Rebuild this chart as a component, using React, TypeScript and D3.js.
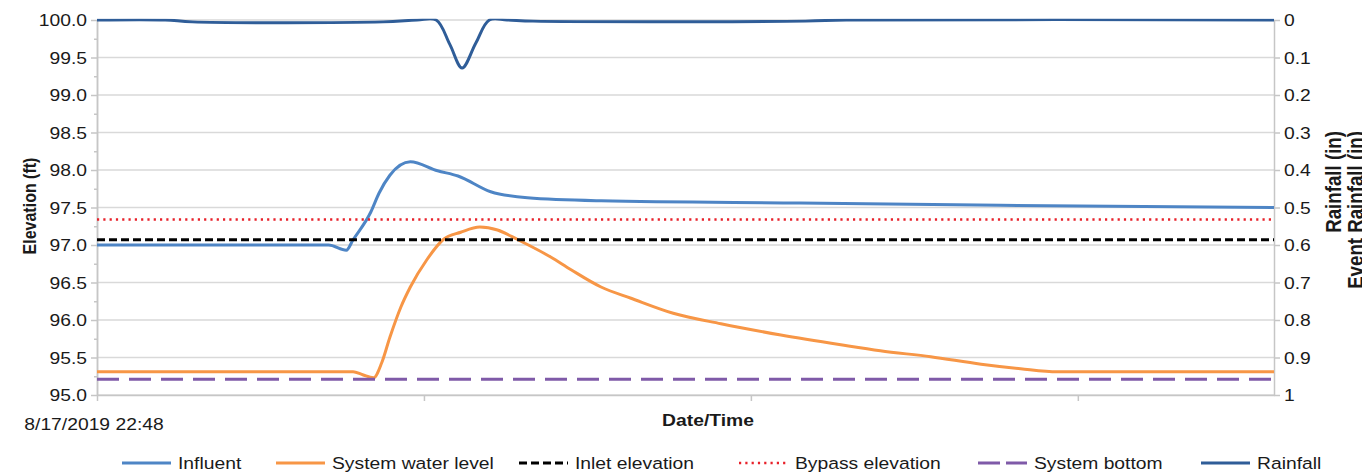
import React, { useEffect, useRef } from 'react';
import * as d3 from 'd3';

// time is kept as hours after the first reading
const startTime = new Date(2019, 7, 17, 22, 48);
const spanHours = 86.4;
const dayTicks = [0, 24, 48, 72];

const influentHours = [0, 17, 18.3, 18.8, 20.1, 20.7, 21.5, 23, 25, 26.5, 28.9, 31.6, 37, 51.6, 66.3, 86.4];
const influentElev = [97.0, 97.0, 96.93, 97.07, 97.44, 97.69, 97.93, 98.11, 97.99, 97.92, 97.71, 97.63, 97.59, 97.56, 97.53, 97.5];

const levelHours = [0, 18.8, 19.5, 20.3, 20.9, 21.5, 22.3, 23, 24.2, 25.4, 26.7, 28.1, 29.4, 30.9, 33.3, 34.8, 37, 39.2, 42.3, 45.8, 50.2, 54.6, 57.5, 61.2, 64.9, 67.8, 70.5, 86.4];
const levelElev = [95.31, 95.31, 95.27, 95.23, 95.43, 95.77, 96.17, 96.44, 96.8, 97.07, 97.17, 97.24, 97.2, 97.07, 96.84, 96.67, 96.44, 96.29, 96.09, 95.95, 95.8, 95.67, 95.59, 95.51, 95.41, 95.35, 95.31, 95.31];

const rainHours = [0, 5, 7, 21, 23.5, 24.9, 25.9, 26.8, 27.8, 28.8, 30.1, 32, 52, 55, 86.4];
const rainIn = [0, 0, 0.005, 0.005, 0, 0, 0.065, 0.128, 0.062, 0, 0, 0.003, 0.003, 0, 0];

const inletElevation = 97.07;
const bypassElevation = 97.34;
const systemBottom = 95.21;

const elevTicks = [95, 95.5, 96, 96.5, 97, 97.5, 98, 98.5, 99, 99.5, 100];
const rainTicks = [0, 0.1, 0.2, 0.3, 0.4, 0.5, 0.6, 0.7, 0.8, 0.9, 1];

const legendNames = ['Influent', 'System water level', 'Inlet elevation', 'Bypass elevation', 'System bottom', 'Rainfall'];
const legendX = [122, 276, 519, 739, 978, 1201];

const colors = {
  influent: '#4E85C5',
  level: '#F79646',
  inlet: '#000000',
  bypass: '#E8212A',
  bottom: '#7F5AA8',
  rain: '#2F5D98',
};

const W = 1362;
const H = 472;
const font = '"Liberation Sans", Arial, sans-serif';
const stretch = 1.17;

const atHour = (h: number) => d3.timeMinute.offset(startTime, Math.round(h * 60));

export default function App() {
  const ref = useRef<SVGSVGElement>(null);

  useEffect(() => {
    document.body.style.margin = '0';
    const svg = d3.select(ref.current);
    svg.selectAll('*').remove();

    const left = 97;
    const right = 1274;
    const top = 20;
    const bottom = 395;

    const x = d3.scaleTime().domain([startTime, atHour(spanHours)]).range([left, right]);
    const yL = d3.scaleLinear().domain([95, 100]).range([bottom, top]);
    const yR = d3.scaleLinear().domain([0, 1]).range([top, bottom]);

    const label = (
      g: any, px: number, py: number, str: string,
      anchor = 'start', size = 16.5, weight = 'normal'
    ) =>
      g.append('text')
        .attr('transform', `translate(${px},${py}) scale(${stretch},1)`)
        .attr('text-anchor', anchor)
        .attr('font-family', font)
        .attr('font-size', size)
        .attr('font-weight', weight)
        .attr('fill', '#1a1a1a')
        .text(str);

    const vlabel = (px: number, py: number, str: string, anchor: string, size: number) =>
      svg.append('text')
        .attr('transform', `translate(${px},${py}) rotate(-90) scale(1,${stretch})`)
        .attr('text-anchor', anchor)
        .attr('font-family', font)
        .attr('font-size', size)
        .attr('font-weight', 'bold')
        .attr('fill', '#1a1a1a')
        .text(str);

    // gridlines
    svg.append('g')
      .selectAll('line')
      .data(elevTicks)
      .join('line')
      .attr('x1', left)
      .attr('x2', right)
      .attr('y1', d => yL(d))
      .attr('y2', d => yL(d))
      .attr('stroke', '#d9d9d9')
      .attr('stroke-width', 1.5);

    // axes
    const styleAxis = (g: any) => {
      g.selectAll('path').attr('stroke', '#c6c6c6').attr('stroke-width', 1.5);
      g.selectAll('line').attr('stroke', '#c6c6c6').attr('stroke-width', 1.5);
      g.selectAll('text').remove();
    };

    svg.append('g')
      .attr('transform', `translate(${left},0)`)
      .call(d3.axisLeft(yL).tickValues(d3.range(95.25, 100, 0.5)).tickSize(3).tickSizeOuter(0))
      .call(styleAxis);
    svg.append('g')
      .attr('transform', `translate(${left},0)`)
      .call(d3.axisLeft(yL).tickValues(elevTicks).tickSize(6).tickSizeOuter(0))
      .call(styleAxis);
    svg.append('g')
      .attr('transform', `translate(${right},0)`)
      .call(d3.axisRight(yR).tickValues(rainTicks).tickSize(6).tickSizeOuter(0))
      .call(styleAxis);
    svg.append('g')
      .attr('transform', `translate(0,${bottom})`)
      .call(d3.axisBottom(x).tickValues(dayTicks.map(atHour)).tickSize(6).tickSizeOuter(0))
      .call(styleAxis);

    const fmtElev = d3.format('.1f');
    elevTicks.forEach(t => label(svg, 87, yL(t) + 6, fmtElev(t), 'end'));
    rainTicks.forEach(t => label(svg, 1284, yR(t) + 6, String(t), 'start'));
    label(svg, 94, 430, d3.timeFormat('%-m/%-d/%Y %H:%M')(startTime), 'middle');

    label(svg, 708, 426, 'Date/Time', 'middle', 16.5, 'bold');
    vlabel(36, 206, 'Elevation (ft)', 'middle', 16);
    vlabel(1341, 131, 'Rainfall (in)', 'end', 18.7);
    vlabel(1363, 131, 'Event Rainfall (in)', 'end', 18.7);

    // series
    svg.append('clipPath')
      .attr('id', 'plot-clip')
      .append('rect')
      .attr('x', left - 2)
      .attr('y', top - 1.2)
      .attr('width', right - left + 4)
      .attr('height', bottom - top + 3);

    const plot = svg.append('g').attr('clip-path', 'url(#plot-clip)');

    const drawElev = (hours: number[], vals: number[], color: string) => {
      const line = d3.line<[number, number]>()
        .x(d => x(atHour(d[0])))
        .y(d => yL(d[1]))
        .curve(d3.curveMonotoneX);
      plot.append('path')
        .attr('d', line(hours.map((h, i) => [h, vals[i]])))
        .attr('fill', 'none')
        .attr('stroke', color)
        .attr('stroke-width', 3)
        .attr('stroke-linejoin', 'round');
    };

    drawElev(influentHours, influentElev, colors.influent);
    drawElev(levelHours, levelElev, colors.level);

    const flat = (v: number, color: string, dash: string, width: number) =>
      plot.append('line')
        .attr('x1', x(startTime))
        .attr('x2', x(atHour(spanHours)))
        .attr('y1', yL(v))
        .attr('y2', yL(v))
        .attr('stroke', color)
        .attr('stroke-width', width)
        .attr('stroke-dasharray', dash);

    flat(inletElevation, colors.inlet, '8,4', 3);
    flat(bypassElevation, colors.bypass, '2.2,4.1', 2.4);
    flat(systemBottom, colors.bottom, '22,10', 3);

    // rainfall keeps the overshooting smoothing, the part above zero is clipped
    const rainLine = d3.line<[number, number]>()
      .x(d => x(atHour(d[0])))
      .y(d => yR(d[1]))
      .curve(d3.curveCatmullRom.alpha(0.5));
    plot.append('path')
      .attr('d', rainLine(rainHours.map((h, i) => [h, rainIn[i]])))
      .attr('fill', 'none')
      .attr('stroke', colors.rain)
      .attr('stroke-width', 3);

    // legend
    const legendStyle = [
      { c: colors.influent, dash: 'none', w: 3 },
      { c: colors.level, dash: 'none', w: 3 },
      { c: colors.inlet, dash: '8,4', w: 3 },
      { c: colors.bypass, dash: '2.2,4.1', w: 2.4 },
      { c: colors.bottom, dash: '22,6', w: 3 },
      { c: colors.rain, dash: 'none', w: 3 },
    ];
    legendNames.forEach((name, i) => {
      const lx = legendX[i];
      svg.append('line')
        .attr('x1', lx)
        .attr('x2', lx + 49)
        .attr('y1', 463)
        .attr('y2', 463)
        .attr('stroke', legendStyle[i].c)
        .attr('stroke-width', legendStyle[i].w)
        .attr('stroke-dasharray', legendStyle[i].dash);
      label(svg, lx + 56, 469, name, 'start');
    });
  }, []);

  return <svg ref={ref} width={W} height={H} style={{ display: 'block', background: '#fff' }} />;
}
